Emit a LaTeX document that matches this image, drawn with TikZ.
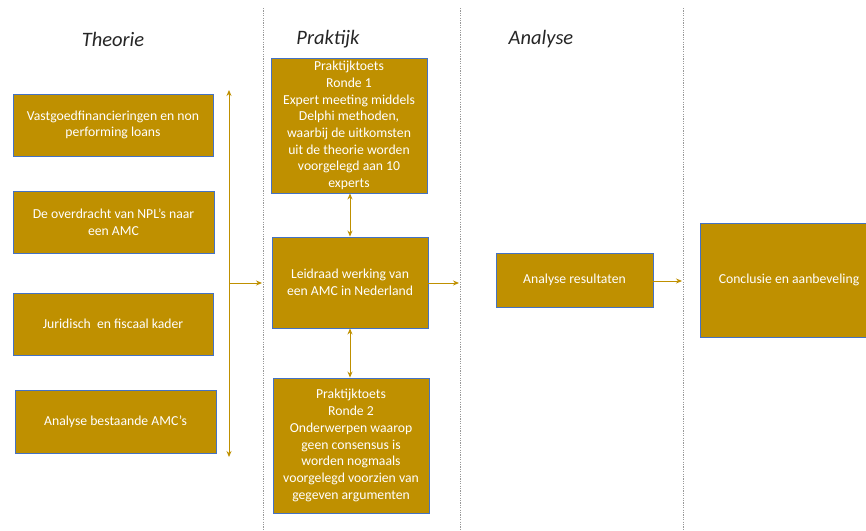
\documentclass[tikz,border=0pt]{standalone}
\usepackage{fontspec}
\setmainfont{Carlito}
\usetikzlibrary{arrows.meta}
\definecolor{gold}{HTML}{BF9000}
\definecolor{edgeblue}{HTML}{4472C4}
\definecolor{headgray}{HTML}{262626}
\tikzset{
  box/.style={draw=edgeblue, line width=0.9pt, fill=gold, text=white, align=center,
    inner sep=0pt, font=\fontsize{13.7}{16.7}\selectfont},
  head/.style={text=headgray, font=\fontsize{20.5}{22}\selectfont\itshape},
  divider/.style={draw=gray!80, line width=0.7pt, dash pattern=on 1.2pt off 1.2pt},
  conn/.style={draw=gold, line width=0.9pt, -{Stealth[length=6pt,width=5pt]}},
  conn2/.style={draw=gold, line width=0.9pt, {Stealth[length=6pt,width=5pt]}-{Stealth[length=6pt,width=5pt]}}
}
\begin{document}
\begin{tikzpicture}[x=1pt,y=-1pt]
\useasboundingbox (0,0) rectangle (866,530);
\fill[white] (0,0) rectangle (866,530);
% dividers
\coordinate (d1t) at (263,8); \coordinate (d1b) at (263,530);
\coordinate (d2t) at (460,8); \coordinate (d2b) at (460,530);
\coordinate (d3t) at (683,8); \coordinate (d3b) at (683,530);
\draw[divider] (d1t) -- (d1b);
\draw[divider] (d2t) -- (d2b);
\draw[divider] (d3t) -- (d3b);
% headings
\node[head] (h1) at (113,39) {Theorie};
\node[head] (h2) at (328,39) {Praktijk};
\node[head] (h3) at (541,39) {Analyse};
% theory boxes
\node[box, minimum width=200pt, minimum height=62pt] (t1) at (113,125) {Vastgoedfinancieringen en non\\performing loans};
\node[box, minimum width=201pt, minimum height=62pt] (t2) at (113.5,222) {De overdracht van NPL’s naar\\een AMC};
\node[box, minimum width=200pt, minimum height=62pt] (t3) at (113,324) {Juridisch\ \ en fiscaal kader};
\node[box, minimum width=201pt, minimum height=63pt] (t4) at (115.5,421.5) {Analyse bestaande AMC’s};
% practice boxes
\node[box, minimum width=156pt, minimum height=135pt] (p1) at (349,125.5) {Praktijktoets\\Ronde 1\\Expert meeting middels\\Delphi methoden,\\waarbij de uitkomsten\\uit de theorie worden\\voorgelegd aan 10\\experts};
\node[box, minimum width=156pt, minimum height=91pt] (l) at (350,282.5) {Leidraad werking van\\een AMC in Nederland};
\node[box, minimum width=156pt, minimum height=135pt] (p2) at (351,445.5) {Praktijktoets\\Ronde 2\\Onderwerpen waarop\\geen consensus is\\worden nogmaals\\voorgelegd voorzien van\\gegeven argumenten};
% analysis
\node[box, minimum width=157pt, minimum height=54pt] (a) at (574.5,280) {Analyse resultaten};
\node[box, minimum width=178pt, minimum height=114pt] (c) at (789,280) {Conclusie en aanbeveling};
% connectors
\coordinate (vt) at (229,90); \coordinate (vb) at (229,457);
\draw[conn2] (vt) -- (vb);
\coordinate (hs) at (229,283); \coordinate (he) at (262,283);
\draw[conn] (hs) -- (he);
\draw[conn2] (p1.south -| 350,0) -- (l.north -| 350,0);
\draw[conn2] (l.south -| 350,0) -- (p2.north -| 350,0);
\coordinate (le) at (459,283);
\draw[conn] (l.east |- le) -- (le);
\coordinate (ae) at (682,281);
\draw[conn] (a.east |- ae) -- (ae);
\end{tikzpicture}
\end{document}
